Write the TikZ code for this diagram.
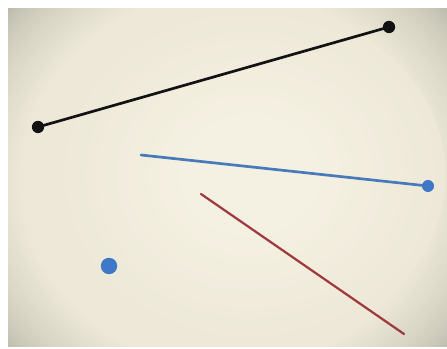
\documentclass[tikz,border=0pt]{standalone}
\usetikzlibrary{calc}
\definecolor{creamc}{RGB}{245,241,226}
\definecolor{creamm}{RGB}{237,232,215}
\definecolor{edgeg}{RGB}{170,170,156}
\definecolor{lineblack}{RGB}{18,18,18}
\definecolor{lineblue}{RGB}{72,122,185}
\definecolor{dotblue}{RGB}{62,120,198}
\definecolor{linered}{RGB}{158,58,62}
\tikzset{
  x=0.03cm, y=-0.03cm,
  seg/.style={line width=2.3pt, line cap=round},
  enddot/.style={circle, inner sep=0pt, minimum size=#1},
}
\begin{document}
\begin{tikzpicture}
\useasboundingbox (0,0) rectangle (447,349);
\fill[white] (0,0) rectangle (447,349);
\begin{scope}
  \clip (8,9) rectangle (447,347);
  \fill[edgeg] (8,9) rectangle (447,349);
  \foreach \i in {0,...,24} {
    \pgfmathsetmacro{\dd}{(270-\i*3.4)*0.03}
    \pgfmathsetmacro{\ddx}{1.1*\dd}
    \pgfmathsetmacro{\pp}{100*(\i/24)^0.5}
    \fill[creamm!\pp!edgeg] (228,180) ellipse[x radius=\ddx cm, y radius=\dd cm];
  }
  \foreach \i in {0,...,12} {
    \pgfmathsetmacro{\dd}{(170-\i*9)*0.03}
    \pgfmathsetmacro{\ddx}{1.15*\dd}
    \pgfmathsetmacro{\pp}{100*(\i/12)}
    \fill[creamc!\pp!creamm] (250,175) ellipse[x radius=\ddx cm, y radius=\dd cm];
  }
\end{scope}
% black segment
\node[enddot=10.5pt, fill=lineblack] (b1) at (38,127) {};
\node[enddot=10.5pt, fill=lineblack] (b2) at (389,27) {};
\draw[seg, lineblack] (b1.center) -- (b2.center);
% blue segment
\coordinate (u1) at (141,155);
\node[enddot=10pt, fill=dotblue] (u2) at (428,186) {};
\draw[seg, lineblue] (u1) -- (u2.center);
\node[enddot=10pt, fill=dotblue] at (u2) {};
% red segment
\coordinate (r1) at (201,194);
\coordinate (r2) at (404,334);
\draw[seg, linered, line width=1.9pt] (r1) -- (r2);
% lone blue dot
\node[enddot=14pt, fill=dotblue] (d) at (109,266) {};
\end{tikzpicture}
\end{document}
